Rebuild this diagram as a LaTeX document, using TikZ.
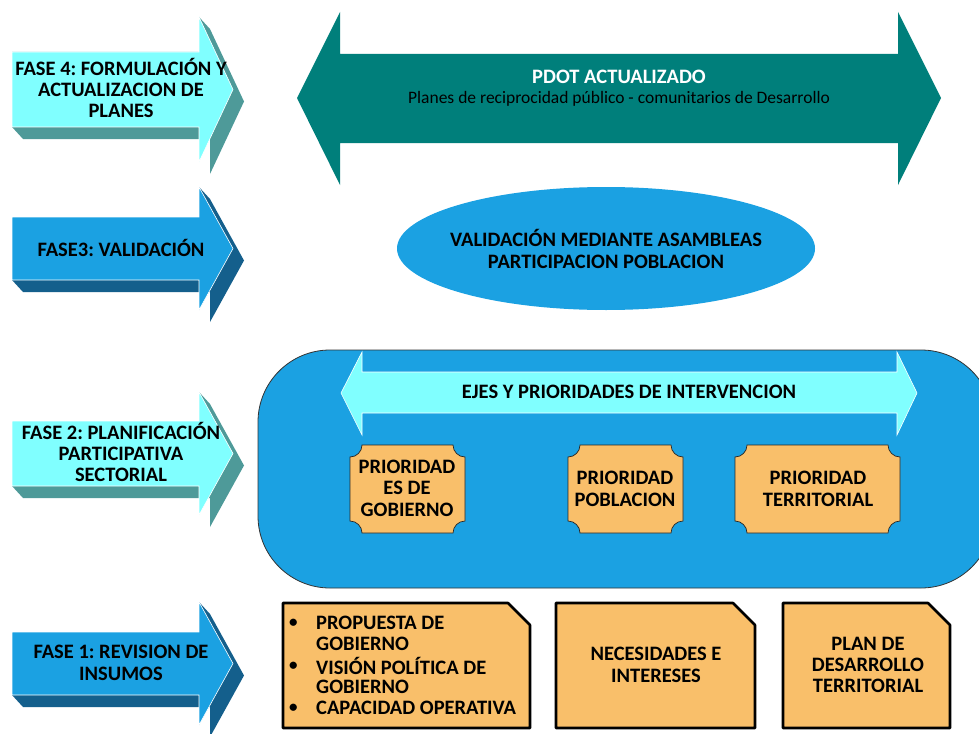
\documentclass[tikz,border=0pt]{standalone}
\usepackage{fontspec}
\setmainfont{Carlito}
\usetikzlibrary{shapes.geometric}
\frenchspacing
\definecolor{lblue}{HTML}{1BA1E2}
\definecolor{dblue}{HTML}{145F8C}
\definecolor{aqua}{HTML}{80FFFF}
\definecolor{tealsh}{HTML}{4E9A99}
\definecolor{pdot}{HTML}{007F7B}
\definecolor{orng}{HTML}{F9BF6A}
% #1 body top, #2 body bottom, #3 head top, #4 face colour, #5 shadow colour
\newcommand\phasearrow[5]{%
  \pgfmathsetmacro\HB{#1+#2-#3}%
  \pgfmathsetmacro\TP{(#1+#2)/2}%
  \fill[#5] (12,#1) -- (199,#1) -- (199,#3) -- (210,{#3+12}) -- (244,{\TP+12})
     -- (210,{\HB+12}) -- (210,{#2+12}) -- (23,{#2+12}) -- (12,#2) -- cycle;
  \draw[white,line width=0.6pt,fill=#4] (12,#1) -- (199,#1) -- (199,#3) -- (233,\TP)
     -- (199,\HB) -- (199,#2) -- (12,#2) -- cycle;
}
% plaque with concave corners: #1 x1, #2 y1, #3 x2, #4 y2
\newcommand\plaque[4]{%
  \draw[plaqueline] ({#1+12},#2) -- ({#3-12},#2) arc[start angle=180,end angle=90,radius=12]
    -- (#3,{#4-12}) arc[start angle=270,end angle=180,radius=12]
    -- ({#1+12},#4) arc[start angle=0,end angle=-90,radius=12]
    -- (#1,{#2+12}) arc[start angle=90,end angle=0,radius=12] -- cycle;
}
% snipped box: #1 x1, #2 y1, #3 x2, #4 y2
\newcommand\snipbox[4]{%
  \draw[snipline] (#1,#2) -- ({#3-22},#2) -- (#3,{#2+22}) -- (#3,#4) -- (#1,#4) -- cycle;
}
\begin{document}
\begin{tikzpicture}[x=1pt,y=-1pt,
  lbl/.style={font=\bfseries\fontsize{20.5}{21.4}\selectfont,align=center,text=black,inner sep=0pt},
  plaqueline/.style={draw=black!85,line width=0.7pt,fill=orng},
  snipline/.style={draw=black,line width=2.6pt,fill=orng,line join=round},
  blt/.style={font=\bfseries\fontsize{20.5}{21.4}\selectfont,anchor=west,inner sep=0pt}]
\useasboundingbox (0,0) rectangle (979,733);
\clip (0,0) rectangle (979,733);
\fill[white] (0,0) rectangle (979,733);

% phase arrows
\phasearrow{52}{127}{17}{aqua}{tealsh}
\phasearrow{217}{280}{187}{lblue}{dblue}
\phasearrow{421}{486}{392}{aqua}{tealsh}
\phasearrow{632}{695}{602}{lblue}{dblue}
\node[lbl] (f4) at (121,88) {FASE 4: FORMULACIÓN Y\\ACTUALIZACION DE\\PLANES};
\node[lbl] (f3) at (121,248) {FASE3: VALIDACIÓN};
\node[lbl] (f2) at (121,452) {FASE 2: PLANIFICACIÓN\\PARTICIPATIVA\\SECTORIAL};
\node[lbl] (f1) at (121,663) {FASE 1: REVISION DE\\INSUMOS};

% PDOT double arrow
\fill[pdot] (297,98) -- (340,12) -- (340,54) -- (898,54) -- (898,12) -- (941,98)
  -- (898,185) -- (898,143) -- (340,143) -- (340,185) -- cycle;
\node[lbl,text=white] (pdt) at (619,77) {PDOT ACTUALIZADO};
\node[font=\fontsize{17.5}{20}\selectfont,inner sep=0pt] (pds) at (619,99)
  {Planes de reciprocidad público - comunitarios de Desarrollo};

% ellipse
\fill[lblue] (606,248.5) ellipse [x radius=209, y radius=61.5];
\node[lbl] (val) at (606,249) {VALIDACIÓN MEDIANTE ASAMBLEAS\\PARTICIPACION POBLACION};

% rounded container
\draw[fill=lblue,draw=black!80,line width=0.8pt,rounded corners=72pt] (258,350) rectangle (993,588);
\fill[aqua,draw=white,line width=0.6pt] (341,393) -- (362,352) -- (362,372) -- (897,372) -- (897,352)
  -- (917,393) -- (897,435) -- (897,413) -- (362,413) -- (362,435) -- cycle;
\node[lbl] (ejes) at (629,392) {EJES Y PRIORIDADES DE INTERVENCION};

\plaque{350}{445}{465}{533}
\plaque{568}{445}{683}{533}
\plaque{735}{445}{900}{533}
\node[lbl] (p1) at (407,488) {PRIORIDAD\\ES DE\\GOBIERNO};
\node[lbl] (p2) at (625,489) {PRIORIDAD\\POBLACION};
\node[lbl] (p3) at (818,489) {PRIORIDAD\\TERRITORIAL};

% bottom boxes
\snipbox{283}{603}{530}{728}
\snipbox{556}{603}{755}{728}
\snipbox{783}{603}{950}{728}
\foreach \yy/\tt/\bb [count=\i] in {623/PROPUESTA DE/1,644/GOBIERNO/0,666/VISIÓN POLÍTICA DE/1,687/GOBIERNO/0,708/CAPACIDAD OPERATIVA/1}{
  \node[blt] (a\i) at (316,\yy) {\tt};
  \ifnum\bb=1 \node[blt,font=\bfseries\fontsize{17}{20}\selectfont] (b\i) at (289,\yy) {\textbullet};\fi
}
\node[lbl] (nec) at (656,665) {NECESIDADES E\\INTERESES};
\node[lbl] (pdt2) at (868,665) {PLAN DE\\DESARROLLO\\TERRITORIAL};
\end{tikzpicture}
\end{document}
